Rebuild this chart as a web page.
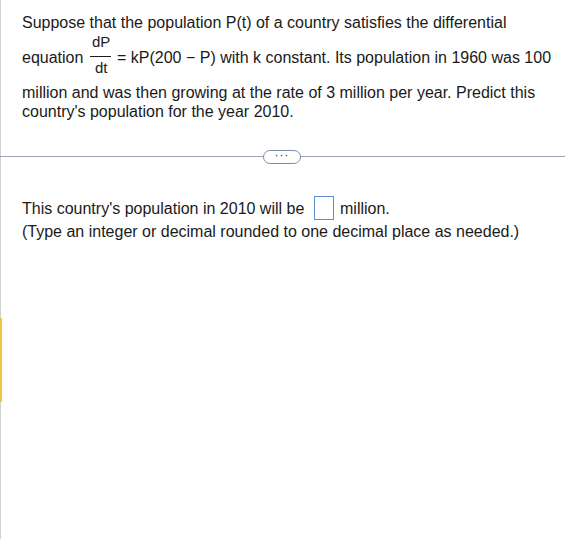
<!DOCTYPE html>
<html><head><meta charset="utf-8">
<script src="https://cdn.jsdelivr.net/npm/chart.js@4"></script>
<style>
html,body{margin:0;padding:0;background:#fff;width:565px;height:539px;overflow:hidden;font-family:"Liberation Sans",Arial,sans-serif;color:#1a1a1a;font-size:16px}
#leftbar{position:absolute;left:0;top:0;width:1px;height:539px;background:#d0d0d0}
#orange{position:absolute;left:0;top:318px;width:2px;height:84px;background:#f5c242}
.t{position:absolute;left:22px;white-space:nowrap;line-height:19px}
.frac{position:absolute;font-size:15px}
#hr{position:absolute;left:0;top:156px;width:565px;height:1px;background:#9aa4b0}
#pill{position:absolute;left:263px;top:150px;width:36px;height:12px;border:1px solid #7d8fa8;border-radius:7px;background:#fff;font-size:12px;line-height:8px;text-align:center;color:#333;letter-spacing:1px}
#box{position:absolute;left:314px;top:196px;width:18px;height:22px;border:1px solid #5b8fd6}
</style></head><body>
<div id="leftbar"></div><div id="orange"></div>
<div class="t" style="top:13px">Suppose that the population P(t) of a country satisfies the differential</div>
<div class="t" style="top:48px">equation</div>
<div class="frac" style="left:92px;top:33px">dP</div>
<div style="position:absolute;left:90px;top:56px;width:21px;height:1px;background:#1a1a1a"></div>
<div class="frac" style="left:95px;top:59px">dt</div>
<div class="t" style="left:117px;top:48px">= kP(200 − P) with k constant. Its population in 1960 was 100</div>
<div class="t" style="top:83px">million and was then growing at the rate of 3 million per year. Predict this</div>
<div class="t" style="top:102px">country's population for the year 2010.</div>
<div id="hr"></div><div id="pill">···</div>
<div class="t" style="top:199px">This country's population in 2010 will be</div>
<div id="box"></div>
<div class="t" style="left:340px;top:199px">million.</div>
<div class="t" style="top:222px">(Type an integer or decimal rounded to one decimal place as needed.)</div>
</body></html>
